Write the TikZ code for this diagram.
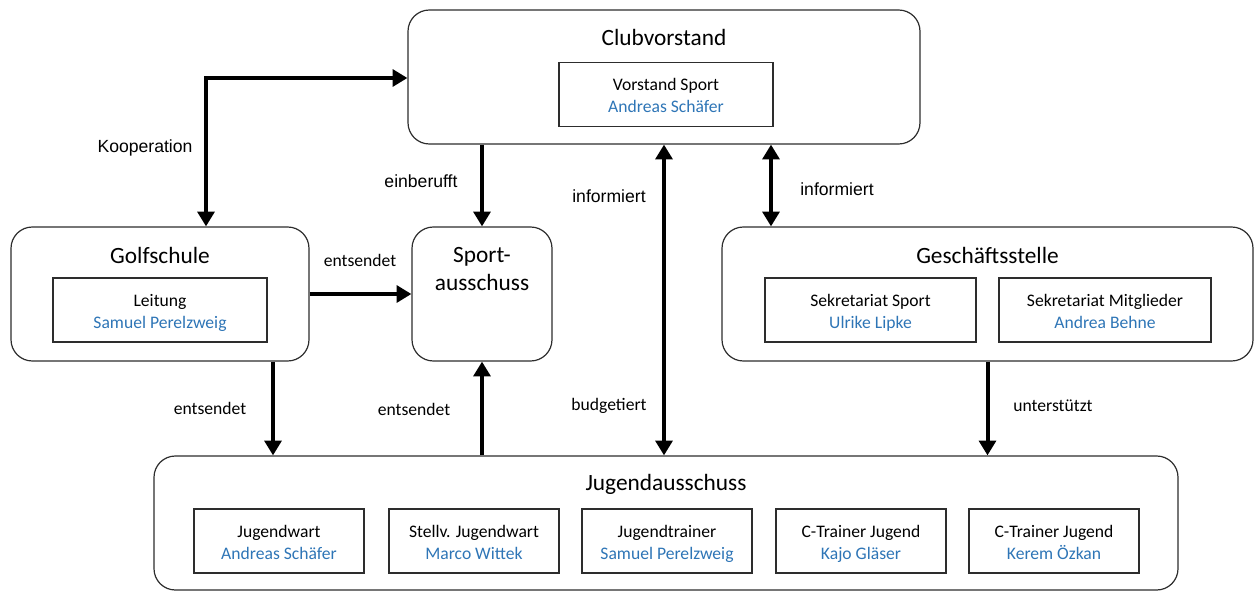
\documentclass[tikz,border=0pt]{standalone}
\usepackage{fontspec}
\setmainfont{Carlito}
\newfontfamily\arialfont{Liberation Sans}
\usepackage{xcolor}
\usetikzlibrary{arrows.meta}
\definecolor{nameblue}{RGB}{46,117,182}
\definecolor{boxgray}{RGB}{45,45,45}
\tikzstyle{group} = [rectangle, rounded corners=16pt, draw=boxgray, line width=0.9pt,
    minimum height=100.5pt]
\tikzstyle{member} = [rectangle, draw=boxgray, line width=0.9pt, align=center,
    minimum height=48pt, font=\fontsize{13.2}{16.5}\selectfont]
\tikzstyle{line} = [draw, line width=3pt, -{Triangle[length=11pt,width=12.5pt]}]
\tikzstyle{dline} = [line, {Triangle[length=11pt,width=12.5pt]}-{Triangle[length=11pt,width=12.5pt]}]
\newcommand{\person}[2]{\rule{0pt}{16pt}#1\\\strut\textcolor{nameblue}{#2}}

\begin{document}
\begin{tikzpicture}[x=0.75pt, y=-0.75pt,
    title/.style={font=\fontsize{17.5}{21}\selectfont, align=center},
    tag/.style={font=\fontsize{13.2}{16}\selectfont},
    arialtag/.style={font=\arialfont\fontsize{13.2}{16}\selectfont}
    ]
    \useasboundingbox (0,0) rectangle (1256,592);

    \node[group, minimum width=384pt] (club) at (664,77) {};
    \node[title] (clubtitle) at (664,37) {Clubvorstand};
    \node[member, minimum width=160.5pt] (vorstand) at (666,94.5) {\person{Vorstand Sport}{Andreas Schäfer}};

    \node[group, minimum width=223.5pt] (golf) at (160,294) {};
    \node[title] (golftitle) at (160,255) {Golfschule};
    \node[member, minimum width=160.5pt] (leitung) at (160,310) {\person{Leitung}{Samuel Perelzweig}};

    \node[group, minimum width=105pt] (sport) at (482,294) {};
    \node[title] (sporttitle) at (482,269) {Sport-\\ausschuss};

    \node[group, minimum width=398.25pt] (gst) at (987.5,294) {};
    \node[title] (gsttitle) at (987.5,255) {Geschäftsstelle};
    \node[member, minimum width=158.25pt] (seksport) at (870.5,310) {\person{Sekretariat Sport}{Ulrike Lipke}};
    \node[member, minimum width=159pt] (sekmitglied) at (1105,310) {\person{Sekretariat Mitglieder}{Andrea Behne}};

    \node[group, minimum width=768pt] (jugend) at (666,523) {};
    \node[title] (jugendtitle) at (666,484) {Jugendausschuss};
    \foreach \x/\role/\name [count=\i] in {279/Jugendwart/Andreas Schäfer,
        474/Stellv. Jugendwart/Marco Wittek, 667/Jugendtrainer/Samuel Perelzweig,
        861/C-Trainer Jugend/Kajo Gläser, 1054/C-Trainer Jugend/Kerem Özkan}
        \node[member, minimum width=127.5pt] (youth\i) at (\x,541) {\person{\role}{\name}};

    \coordinate (koopknee) at (206,78);
    \coordinate (inforight) at (771,0);
    \coordinate (sendleft) at (273,0);

    \draw[dline] (golf.north -| koopknee) -- (koopknee) -- (club.west |- koopknee);
    \draw[line] (club.south -| sport) -- (sport.north);
    \draw[dline] (club.south) -- (club.south |- jugend.north);
    \draw[dline] (club.south -| inforight) -- (gst.north -| inforight);
    \draw[line] (golf.east |- sport) -- (sport.west);
    \draw[line] (golf.south -| sendleft) -- (jugend.north -| sendleft);
    \draw[line] (jugend.north -| sport) -- (sport.south);
    \draw[line] (gst.south) -- (gst.south |- jugend.north);

    \node[arialtag] (koop) at (145,148) {Kooperation};
    \node[arialtag] (einberufen) at (421,181) {einberufft};
    \node[arialtag] (infoleft) at (609,196) {informiert};
    \node[arialtag] (inforechts) at (837,189) {informiert};
    \node[tag] (budget) at (609,406) {budgetiert};
    \node[tag] (sendsport) at (360,260) {entsendet};
    \node[tag] (sendjugend) at (210,408) {entsendet};
    \node[tag] (sendback) at (414,409) {entsendet};
    \node[tag] (support) at (1053,406) {unterstützt};
\end{tikzpicture}
\end{document}
